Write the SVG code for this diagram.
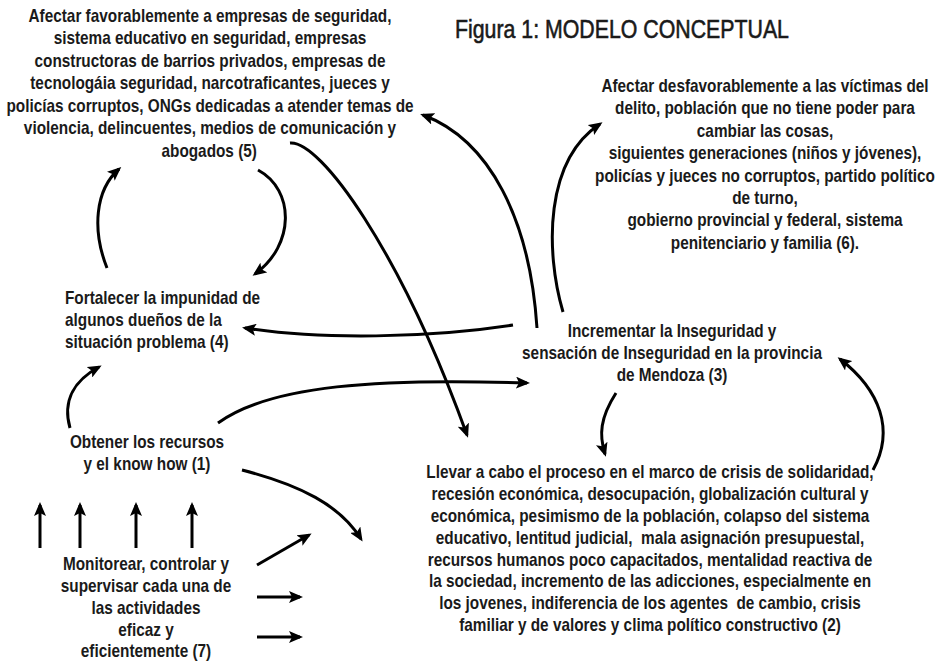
<svg xmlns="http://www.w3.org/2000/svg" width="936" height="664" viewBox="0 0 936 664">
<defs>
<marker id="ah" markerUnits="userSpaceOnUse" markerWidth="14" markerHeight="12" refX="11" refY="6" orient="auto">
<path d="M0,0 L14,6 L0,12 L3,6 z" fill="#000"/>
</marker>
<style>
text{font-family:"Liberation Sans",Arial,sans-serif;font-size:18.7px;font-weight:bold;fill:#1a1a1a;white-space:pre}
.c text{text-anchor:middle}
.title{font-size:26px;font-weight:normal;stroke:#1a1a1a;stroke-width:0.6px}
.conn path{fill:none;stroke:#000;stroke-width:3;marker-end:url(#ah)}
</style>
</defs>
<rect width="936" height="664" fill="#fff"/>
<g id="title" transform="translate(455,0) scale(0.82,1)"><text class="title" x="0" y="38">Figura 1: MODELO CONCEPTUAL</text></g>
<g id="n5" class="c" transform="translate(210,0) scale(0.82,1)">
<text x="0" y="22">Afectar favorablemente a empresas de seguridad,</text>
<text x="0" y="44.5">sistema educativo en seguridad, empresas</text>
<text x="0" y="67">constructoras de barrios privados, empresas de</text>
<text x="0" y="89.5">tecnologáia seguridad, narcotraficantes, jueces y</text>
<text x="0" y="112">policías corruptos, ONGs dedicadas a atender temas de</text>
<text x="0" y="134.5">violencia, delincuentes, medios de comunicación y</text>
<text x="-1" y="157">abogados (5)</text>
</g>
<g id="n6" class="c" transform="translate(765,0) scale(0.82,1)">
<text x="0" y="92">Afectar desfavorablemente a las víctimas del</text>
<text x="0" y="114.4">delito, población que no tiene poder para</text>
<text x="0" y="136.8">cambiar las cosas,</text>
<text x="0" y="159.2">siguientes generaciones (niños y jóvenes),</text>
<text x="0" y="181.6">policías y jueces no corruptos, partido político</text>
<text x="0" y="204">de turno,</text>
<text x="0" y="226.4">gobierno provincial y federal, sistema</text>
<text x="0" y="248.8">penitenciario y familia (6).</text>
</g>
<g id="n4" transform="translate(65,0) scale(0.82,1)">
<text x="0" y="304">Fortalecer la impunidad de</text>
<text x="0" y="326">algunos dueños de la</text>
<text x="0" y="348">situación problema (4)</text>
</g>
<g id="n3" class="c" transform="translate(672,0) scale(0.82,1)">
<text x="0" y="337">Incrementar la Inseguridad y</text>
<text x="0" y="359">sensación de Inseguridad en la provincia</text>
<text x="0" y="381">de Mendoza (3)</text>
</g>
<g id="n1" class="c" transform="translate(147,0) scale(0.82,1)">
<text x="0" y="448">Obtener los recursos</text>
<text x="0" y="470">y el know how (1)</text>
</g>
<g id="n2" class="c" transform="translate(650,0) scale(0.82,1)">
<text x="0" y="478">Llevar a cabo el proceso en el marco de crisis de solidaridad,</text>
<text x="0" y="500">recesión económica, desocupación, globalización cultural y</text>
<text x="0" y="522">económica, pesimismo de la población, colapso del sistema</text>
<text x="0" y="544">educativo, lentitud judicial,  mala asignación presupuestal,</text>
<text x="0" y="566">recursos humanos poco capacitados, mentalidad reactiva de</text>
<text x="0" y="587">la sociedad, incremento de las adicciones, especialmente en</text>
<text x="0" y="609">los jovenes, indiferencia de los agentes  de cambio, crisis</text>
<text x="0" y="631">familiar y de valores y clima político constructivo (2)</text>
</g>
<g id="n7" class="c" transform="translate(146,0) scale(0.82,1)">
<text x="0" y="570">Monitorear, controlar y</text>
<text x="0" y="592">supervisar cada una de</text>
<text x="0" y="614">las actividades</text>
<text x="0" y="636">eficaz y</text>
<text x="0" y="657">eficientemente (7)</text>
</g>
<g id="connectors" class="conn">
<path d="M537,328 C530,220 490,140 423,115"/>
<path d="M290,143 C320,140 400,250 467,435"/>
<path d="M258,170 C295,190 295,245 255,274"/>
<path d="M513,325 C430,338 320,340 245,328"/>
<path d="M218,423 C270,385 380,378 527,383"/>
<path d="M563,312 C545,250 545,160 600,124"/>
<path d="M107,268 C92,230 95,190 119,169"/>
<path d="M70,428 C62,400 75,380 99,367"/>
<path d="M616,393 C600,418 599,435 605,454"/>
<path d="M873,470 C895,430 880,390 840,359"/>
<path d="M242,470 C300,485 340,505 361,539"/>
<path d="M40,548 L40,505"/>
<path d="M80,548 L80,505"/>
<path d="M136,548 L136,505"/>
<path d="M192,548 L192,505"/>
<path d="M257,565 L309,535"/>
<path d="M257,597 L300,597"/>
<path d="M257,637 L300,637"/>
</g>
</svg>
